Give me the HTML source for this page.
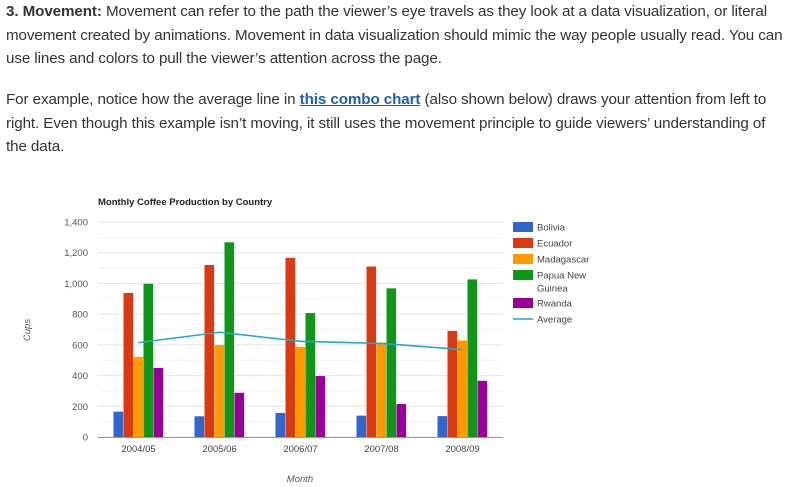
<!DOCTYPE html>
<html><head><meta charset="utf-8"><style>
body{margin:0;width:790px;height:487px;background:#fff;overflow:hidden;font-family:"Liberation Sans",sans-serif}
.txt{position:absolute;left:6px;width:780px;font-size:15.2px;line-height:23.5px;color:#333;letter-spacing:-0.1px}
.txt a{color:#1a5fb4;font-weight:bold}
</style></head><body>
<div class="txt" style="top:0px"><b>3. Movement:</b> Movement can refer to the path the viewer’s eye travels as they look at a data visualization, or literal movement created by animations. Movement in data visualization should mimic the way people usually read. You can use lines and colors to pull the viewer’s attention across the page.</div>
<div class="txt" style="top:88px">For example, notice how the average line in <a href="#">this combo chart</a> (also shown below) draws your attention from left to right. Even though this example isn’t moving, it still uses the movement principle to guide viewers’ understanding of the data.</div>
<svg id="chart" width="790" height="487" style="position:absolute;left:0;top:0"></svg>
<script>
const categories=["2004/05","2005/06","2006/07","2007/08","2008/09"];
const seriesNames=["Bolivia","Ecuador","Madagascar","Papua New Guinea","Rwanda"];
const bolivia=[165,135,157,139,136];
const ecuador=[938,1120,1167,1110,691];
const madagascar=[522,599,587,615,629];
const png=[998,1268,807,968,1026];
const rwanda=[450,288,397,215,366];
const average=[614.6,682,623,609.4,569.6];
const yTicks=[0,200,400,600,800,1000,1200,1400];
const yTickLabels=["0","200","400","600","800","1,000","1,200","1,400"];
const colors=["#3366cc","#dc3912","#ff9900","#109618","#990099"];
const series=[bolivia,ecuador,madagascar,png,rwanda];
const NS="http://www.w3.org/2000/svg",svg=document.getElementById('chart');
const x0=98,x1=503,yb=437,yt=222;
const y=v=>yb-(v/1400)*(yb-yt);
const gw=(x1-x0)/categories.length;
const xc=i=>x0+gw*(i+0.5);
function mk(t,a,p){const e=document.createElementNS(NS,t);for(const k in a)e.setAttribute(k,a[k]);(p||svg).appendChild(e);return e;}
for(let v=0;v<=1400;v+=100){const g=mk('line',{x1:x0,x2:x1,y1:y(v),y2:y(v),stroke:v%200?'#f3f3f3':'#e4e4e4','stroke-width':1});

}
yTicks.forEach((v,i)=>{const t=mk('text',{x:88,y:y(v)+3.5,'text-anchor':'end','font-size':9.5,fill:'#555'});t.textContent=yTickLabels[i];

});
const bw=9.6;
categories.forEach((c,i)=>{
 series.forEach((s,j)=>{const bx=xc(i)-25+j*10;const r=mk('rect',{x:bx,y:y(s[i]),width:bw,height:yb-y(s[i]),fill:colors[j]});
 
 });
 const t=mk('text',{x:xc(i),y:yb+15,'text-anchor':'middle','font-size':9.5,fill:'#444'});t.textContent=c;
 
 
});
const ax=mk('line',{x1:x0,x2:x1,y1:yb+0.5,y2:yb+0.5,stroke:'#999','stroke-width':1});


const pl=mk('polyline',{points:average.map((v,i)=>xc(i)+','+y(v)).join(' '),fill:'none',stroke:'#22aacc','stroke-width':1.6});


const ti=mk('text',{x:98,y:205,'font-size':9.5,'font-weight':'bold',fill:'#222'});ti.textContent='Monthly Coffee Production by Country';


const yl=mk('text',{x:0,y:0,'font-size':9.5,'font-style':'italic',fill:'#555','text-anchor':'middle',transform:'translate(30,330) rotate(-90)'});yl.textContent='Cups';


const xl=mk('text',{x:300,y:482,'font-size':9.5,'font-style':'italic',fill:'#555','text-anchor':'middle'});xl.textContent='Month';


const legY=[227,243,259,275,303,319];
const legLabels=["Bolivia","Ecuador","Madagascar","Papua New","Rwanda","Average"];
legLabels.forEach((l,k)=>{const yy=legY[k];
 if(k<5){const r=mk('rect',{x:513,y:yy-5,width:20,height:10,fill:colors[k]});
 
 }
 else{const r=mk('line',{x1:513,x2:533,y1:yy,y2:yy,stroke:'#22aacc','stroke-width':1.6});
 
 }
 const t=mk('text',{x:537,y:yy+3.5,'font-size':9.5,fill:'#444'});t.textContent=l;
 
 
});
const g2=mk('text',{x:537,y:291.5,'font-size':9.5,fill:'#444'});g2.textContent='Guinea';


</script>
</body></html>
